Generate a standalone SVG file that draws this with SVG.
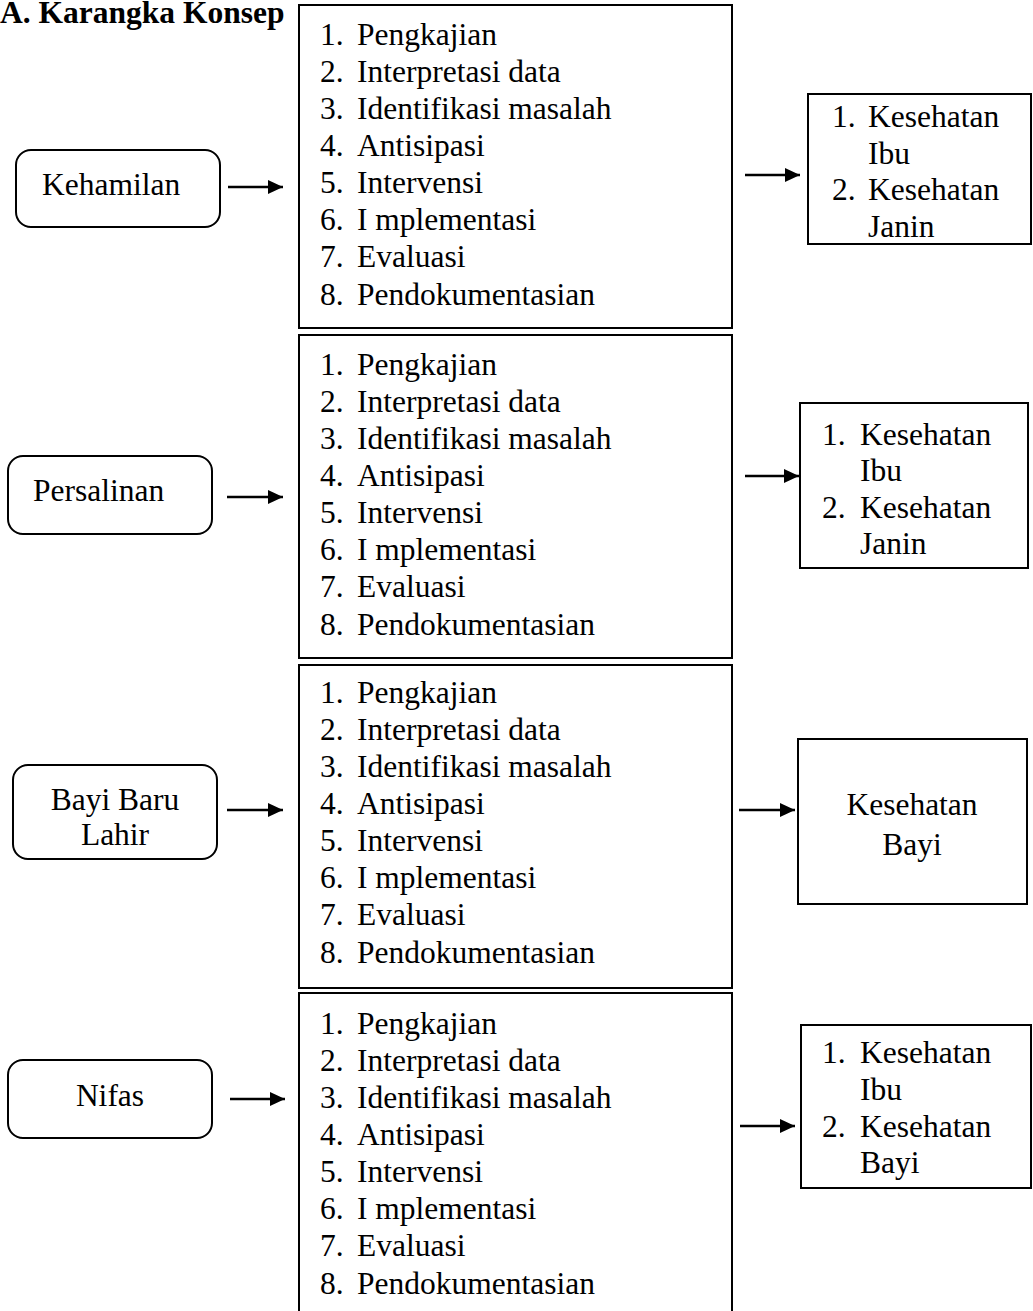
<svg xmlns="http://www.w3.org/2000/svg" width="1033" height="1311" viewBox="0 0 1033 1311">
<style>
text{font-family:"Liberation Serif","Times New Roman",serif;font-size:31.5px;fill:#000}
.t{font-weight:bold}
.box{fill:#fff;stroke:#000;stroke-width:2}
.c{text-anchor:middle}
.ar{stroke:#000;stroke-width:2.5;fill:none}
</style>
<defs>
<marker id="ah" markerUnits="userSpaceOnUse" markerWidth="16" markerHeight="14" refX="15" refY="7" orient="auto">
<path d="M0,0 L15,7 L0,14 Z" fill="#000"/>
</marker>
</defs>
<rect width="1033" height="1311" fill="#fff"/>
<text class="t" x="0" y="23">A. Karangka Konsep</text>

<g id="kehamilan"><rect class="box" x="16" y="150" width="204" height="77" rx="15"/><text x="42" y="195">Kehamilan</text></g>
<g id="persalinan"><rect class="box" x="8" y="456" width="204" height="78" rx="15"/><text x="33" y="501">Persalinan</text></g>
<g id="bbl"><rect class="box" x="13" y="765" width="204" height="94" rx="15"/><text class="c" x="115" y="810">Bayi Baru</text><text class="c" x="115" y="845">Lahir</text></g>
<g id="nifas"><rect class="box" x="8" y="1060" width="204" height="78" rx="15"/><text class="c" x="110" y="1106">Nifas</text></g>

<g id="proses1"><rect class="box" x="299" y="5" width="433" height="323"/>
<text x="320" y="45">1.</text><text x="357" y="45">Pengkajian</text>
<text x="320" y="82">2.</text><text x="357" y="82">Interpretasi data</text>
<text x="320" y="119">3.</text><text x="357" y="119">Identifikasi masalah</text>
<text x="320" y="156">4.</text><text x="357" y="156">Antisipasi</text>
<text x="320" y="193">5.</text><text x="357" y="193">Intervensi</text>
<text x="320" y="230">6.</text><text x="357" y="230">I mplementasi</text>
<text x="320" y="267">7.</text><text x="357" y="267">Evaluasi</text>
<text x="320" y="305">8.</text><text x="357" y="305">Pendokumentasian</text></g>

<g id="proses2"><rect class="box" x="299" y="335" width="433" height="323"/>
<text x="320" y="375">1.</text><text x="357" y="375">Pengkajian</text>
<text x="320" y="412">2.</text><text x="357" y="412">Interpretasi data</text>
<text x="320" y="449">3.</text><text x="357" y="449">Identifikasi masalah</text>
<text x="320" y="486">4.</text><text x="357" y="486">Antisipasi</text>
<text x="320" y="523">5.</text><text x="357" y="523">Intervensi</text>
<text x="320" y="560">6.</text><text x="357" y="560">I mplementasi</text>
<text x="320" y="597">7.</text><text x="357" y="597">Evaluasi</text>
<text x="320" y="635">8.</text><text x="357" y="635">Pendokumentasian</text></g>

<g id="proses3"><rect class="box" x="299" y="665" width="433" height="323"/>
<text x="320" y="703">1.</text><text x="357" y="703">Pengkajian</text>
<text x="320" y="740">2.</text><text x="357" y="740">Interpretasi data</text>
<text x="320" y="777">3.</text><text x="357" y="777">Identifikasi masalah</text>
<text x="320" y="814">4.</text><text x="357" y="814">Antisipasi</text>
<text x="320" y="851">5.</text><text x="357" y="851">Intervensi</text>
<text x="320" y="888">6.</text><text x="357" y="888">I mplementasi</text>
<text x="320" y="925">7.</text><text x="357" y="925">Evaluasi</text>
<text x="320" y="963">8.</text><text x="357" y="963">Pendokumentasian</text></g>

<g id="proses4"><rect class="box" x="299" y="993" width="433" height="330"/>
<text x="320" y="1034">1.</text><text x="357" y="1034">Pengkajian</text>
<text x="320" y="1071">2.</text><text x="357" y="1071">Interpretasi data</text>
<text x="320" y="1108">3.</text><text x="357" y="1108">Identifikasi masalah</text>
<text x="320" y="1145">4.</text><text x="357" y="1145">Antisipasi</text>
<text x="320" y="1182">5.</text><text x="357" y="1182">Intervensi</text>
<text x="320" y="1219">6.</text><text x="357" y="1219">I mplementasi</text>
<text x="320" y="1256">7.</text><text x="357" y="1256">Evaluasi</text>
<text x="320" y="1294">8.</text><text x="357" y="1294">Pendokumentasian</text></g>

<g id="hasil1"><rect class="box" x="808" y="94" width="223" height="150"/>
<text x="832" y="127">1.</text><text x="868" y="127">Kesehatan</text>
<text x="868" y="164">Ibu</text>
<text x="832" y="200">2.</text><text x="868" y="200">Kesehatan</text>
<text x="868" y="237">Janin</text></g>

<g id="hasil2"><rect class="box" x="800" y="403" width="228" height="165"/>
<text x="822" y="445">1.</text><text x="860" y="445">Kesehatan</text>
<text x="860" y="481">Ibu</text>
<text x="822" y="518">2.</text><text x="860" y="518">Kesehatan</text>
<text x="860" y="554">Janin</text></g>

<g id="hasil3"><rect class="box" x="798" y="739" width="229" height="165"/>
<text class="c" x="912" y="815">Kesehatan</text>
<text class="c" x="912" y="855">Bayi</text></g>

<g id="hasil4"><rect class="box" x="801" y="1025" width="230" height="163"/>
<text x="822" y="1063">1.</text><text x="860" y="1063">Kesehatan</text>
<text x="860" y="1100">Ibu</text>
<text x="822" y="1137">2.</text><text x="860" y="1137">Kesehatan</text>
<text x="860" y="1173">Bayi</text></g>

<g id="connectors">
<line class="ar" x1="228" y1="187" x2="283" y2="187" marker-end="url(#ah)"/>
<line class="ar" x1="227" y1="497" x2="283" y2="497" marker-end="url(#ah)"/>
<line class="ar" x1="227" y1="810" x2="283" y2="810" marker-end="url(#ah)"/>
<line class="ar" x1="230" y1="1099" x2="285" y2="1099" marker-end="url(#ah)"/>
<line class="ar" x1="745" y1="175" x2="800" y2="175" marker-end="url(#ah)"/>
<line class="ar" x1="745" y1="476" x2="799" y2="476" marker-end="url(#ah)"/>
<line class="ar" x1="739" y1="810" x2="795" y2="810" marker-end="url(#ah)"/>
<line class="ar" x1="740" y1="1126" x2="795" y2="1126" marker-end="url(#ah)"/>
</g>
</svg>
